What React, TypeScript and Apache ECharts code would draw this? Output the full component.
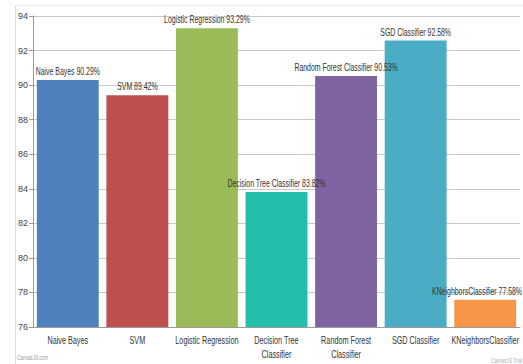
import React, { useEffect, useRef } from "react";
import * as echarts from "echarts";

const categories = [
  "Naive Bayes",
  "SVM",
  "Logistic Regression",
  "Decision Tree\nClassifier",
  "Random Forest\nClassifier",
  "SGD Classifier",
  "KNeighborsClassifier",
];
const labelNames = [
  "Naive Bayes",
  "SVM",
  "Logistic Regression",
  "Decision Tree Classifier",
  "Random Forest Classifier",
  "SGD Classifier",
  "KNeighborsClassifier",
];
const accuracies = [90.29, 89.42, 93.29, 83.82, 90.53, 92.58, 77.58];
const barColors = ["#4F81BC", "#C0504E", "#9BBB58", "#23BFAA", "#8064A1", "#4AACC5", "#F79647"];
const yMin = 76;
const yMax = 94;
const yStep = 2;

const FONT = "'Liberation Sans', Arial, sans-serif";
const NARROW = 0.66;

export default function App() {
  const ref = useRef<HTMLDivElement>(null);
  useEffect(() => {
    if (!ref.current) return;
    const chart = echarts.init(ref.current, undefined, { renderer: "svg" });
    chart.setOption({
      animation: false,
      backgroundColor: "#ffffff",
      grid: { left: 33, right: 3, top: 16, bottom: 37, containLabel: false },
      xAxis: {
        type: "category",
        data: categories,
        axisLine: { lineStyle: { color: "#9a9a9a", width: 1 } },
        axisTick: { alignWithLabel: true, length: 4, lineStyle: { color: "#9a9a9a" } },
        axisLabel: { show: false },
      },
      yAxis: {
        type: "value",
        min: yMin,
        max: yMax,
        interval: yStep,
        axisLine: { show: true, lineStyle: { color: "#9a9a9a", width: 1 } },
        axisTick: { show: true, length: 4, lineStyle: { color: "#9a9a9a" } },
        axisLabel: { color: "#444", fontFamily: FONT, fontSize: 9, margin: 5 },
        splitLine: { lineStyle: { color: "#c8c8c8", width: 1 } },
      },
      series: [
        {
          type: "bar",
          data: accuracies.map((v, i) => ({ value: v, itemStyle: { color: barColors[i] } })),
          barCategoryGap: "11%",
          label: { show: false },
        },
      ],
    });

    const chartW = chart.getWidth();
    const texts: any[] = [];
    accuracies.forEach((v, i) => {
      const top = chart.convertToPixel({ seriesIndex: 0 }, [i, v]) as number[];
      const base = chart.convertToPixel({ seriesIndex: 0 }, [i, yMin]) as number[];
      const text = `${labelNames[i]} ${v.toFixed(2)}%`;
      const font = `10.5px ${FONT}`;
      const w = echarts.format.getTextRect
        ? (echarts.format as any).getTextRect(text, font).width * NARROW
        : 0;
      let x = top[0];
      let align = "center";
      if (x + w / 2 > chartW - 1) {
        x = chartW - 1;
        align = "right";
      }
      texts.push({
        type: "text",
        x,
        y: top[1] - 3,
        scaleX: NARROW,
        z: 10,
        style: {
          text,
          align,
          verticalAlign: "bottom",
          fill: "#333",
          font,
        },
      });
      texts.push({
        type: "text",
        x: base[0],
        y: base[1] + 6,
        scaleX: NARROW,
        style: {
          text: categories[i],
          align: "center",
          verticalAlign: "top",
          fill: "#333",
          font: `11px ${FONT}`,
          lineHeight: 14,
        },
      });
    });

    chart.setOption({
      graphic: [
        {
          type: "line",
          shape: { x1: 15.5, y1: 5, x2: 15.5, y2: 364 },
          style: { stroke: "#dddddd", lineWidth: 1 },
          silent: true,
        },
        {
          type: "line",
          shape: { x1: 15, y1: 5.5, x2: 523, y2: 5.5 },
          style: { stroke: "#eeeeee", lineWidth: 1 },
          silent: true,
        },
        {
          type: "text",
          x: 17,
          y: 354,
          scaleX: NARROW,
          style: { text: "CanvasJS.com", fill: "#9a9a9a", font: `7px ${FONT}` },
        },
        {
          type: "text",
          x: 522,
          y: 357,
          scaleX: NARROW,
          style: { text: "CanvasJS Trial", align: "right", fill: "#b0b0b0", font: `7px ${FONT}` },
        },
        ...texts,
      ],
    });
    return () => chart.dispose();
  }, []);
  return (
    <div
      ref={ref}
      style={{ position: "fixed", left: 0, top: 0, width: 523, height: 364 }}
    />
  );
}
